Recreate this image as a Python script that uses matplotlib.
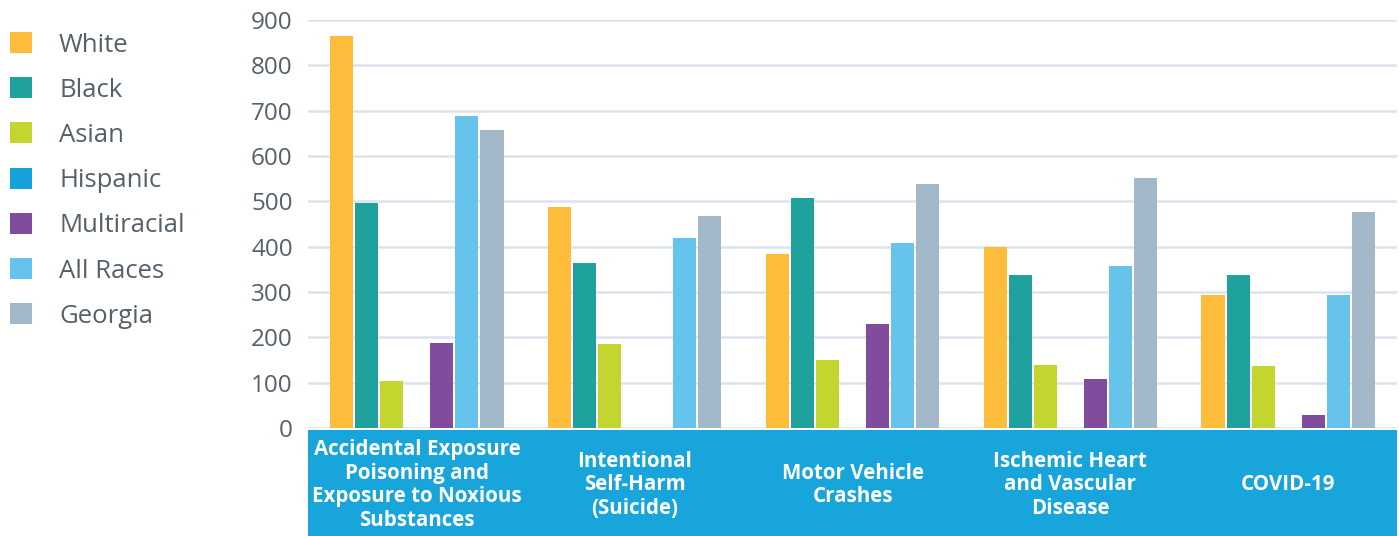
import matplotlib
matplotlib.use("Agg")
import matplotlib.pyplot as plt
from matplotlib.patches import Rectangle
import numpy as np

categories = [
    "Accidental Exposure\nPoisoning and\nExposure to Noxious\nSubstances",
    "Intentional\nSelf-Harm\n(Suicide)",
    "Motor Vehicle\nCrashes",
    "Ischemic Heart\nand Vascular\nDisease",
    "COVID-19",
]
series_names = ["White", "Black", "Asian", "Hispanic", "Multiracial", "All Races", "Georgia"]
white = [865, 488, 384, 399, 293]
black = [496, 364, 507, 337, 337]
asian = [104, 185, 150, 139, 137]
hispanic = [0, 0, 0, 0, 0]
multiracial = [188, 0, 229, 108, 29]
all_races = [688, 419, 408, 357, 293]
georgia = [657, 468, 538, 551, 476]
yticks = [0, 100, 200, 300, 400, 500, 600, 700, 800, 900]

colors = ["#fdbd3b", "#1fa19d", "#c4d52f", "#16a3dc", "#814c9c", "#65c3ec", "#a3b9c9"]
values = [white, black, asian, hispanic, multiracial, all_races, georgia]

W, H = 1399, 536
fig = plt.figure(figsize=(W / 100, H / 100), dpi=100)
plt.rcParams["font.family"] = ["Open Sans", "DejaVu Sans"]
text_color = "#56606b"

ax = fig.add_axes([308 / W, (H - 428) / H, (1397 - 308) / W, (428 - 20) / H])
n = len(categories)
x = np.arange(n)
slot = 1 / 8.7
bw = slot * 0.92
for i, (vals, c) in enumerate(zip(values, colors)):
    offs = (i - 3) * slot
    ax.bar(x + offs, vals, width=bw, color=c, zorder=3)

ax.set_xlim(-0.5, n - 0.5)
ax.set_ylim(0, 900)
ax.set_yticks(yticks)
ax.set_yticklabels([str(t) for t in yticks], fontsize=17.5, color=text_color)
ax.tick_params(axis="y", length=0, pad=11)
ax.set_xticks([])
ax.grid(axis="y", color="#dde3ee", linewidth=1.8, zorder=0)
for s in ax.spines.values():
    s.set_visible(False)

# category band below the plot
fig.add_artist(Rectangle((308 / W, 0), (1397 - 308) / W, (H - 430) / H,
                         transform=fig.transFigure, facecolor="#17a5dc",
                         edgecolor="none"))
for xi, cat in zip(x, categories):
    xf = (308 + (xi + 0.5) * (1397 - 308) / n) / W
    fig.text(xf, (H - 485) / H, cat, ha="center", va="center", color="white",
             fontsize=14.8, fontweight="bold", linespacing=1.18)

# legend
for i, (name, c) in enumerate(zip(series_names, colors)):
    ytop = 32 + i * 45.2
    fig.add_artist(Rectangle((10 / W, (H - ytop - 21) / H), 22 / W, 21 / H,
                             transform=fig.transFigure, facecolor=c, edgecolor="none"))
    fig.text(59 / W, (H - ytop - 13) / H, name, ha="left", va="center",
             fontsize=18.5, color=text_color)

fig.savefig("out.png", dpi=100, facecolor="white")
